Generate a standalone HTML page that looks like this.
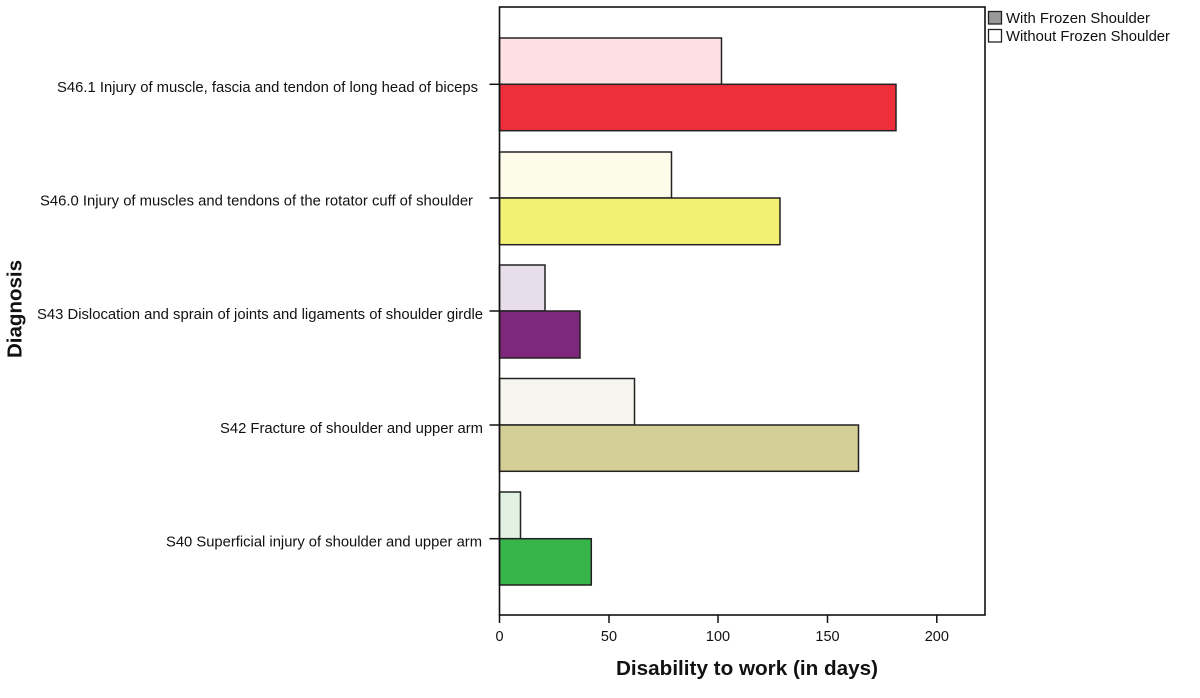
<!DOCTYPE html>
<html>
<head>
<meta charset="utf-8">
<style>
html,body{margin:0;padding:0;background:#fff;}
svg{display:block;}
text{font-family:"Liberation Sans",Arial,sans-serif;fill:#111;}
</style>
</head>
<body>
<svg width="1200" height="698" viewBox="0 0 1200 698" xmlns="http://www.w3.org/2000/svg">
<rect x="0" y="0" width="1200" height="698" fill="#fff"/>

<!-- bars -->
<g stroke="#222" stroke-width="1.5">
  <rect x="499.5" y="38" width="222" height="46.3" fill="#FCE0E2"/>
  <rect x="499.5" y="84.3" width="396.5" height="46.4" fill="#EE2E3B"/>

  <rect x="499.5" y="152" width="172" height="46" fill="#FDFCEA"/>
  <rect x="499.5" y="198" width="280.5" height="46.7" fill="#F4F074"/>

  <rect x="499.5" y="265" width="45.5" height="46" fill="#E8DDEB"/>
  <rect x="499.5" y="311" width="80.5" height="47" fill="#7E287C"/>

  <rect x="499.5" y="378.5" width="135" height="46.5" fill="#F6F6EE"/>
  <rect x="499.5" y="425" width="359" height="46.3" fill="#D4CF97"/>

  <rect x="499.5" y="492" width="21" height="46.7" fill="#E1F2E3"/>
  <rect x="499.5" y="538.7" width="91.8" height="46.3" fill="#37B44A"/>
</g>

<!-- frame -->
<rect x="499.5" y="7" width="485.5" height="608" fill="none" stroke="#111" stroke-width="1.6"/>

<!-- y ticks -->
<g stroke="#111" stroke-width="1.5">
  <line x1="489.5" y1="84.3" x2="499.5" y2="84.3"/>
  <line x1="489.5" y1="198" x2="499.5" y2="198"/>
  <line x1="489.5" y1="311" x2="499.5" y2="311"/>
  <line x1="489.5" y1="425" x2="499.5" y2="425"/>
  <line x1="489.5" y1="538.7" x2="499.5" y2="538.7"/>
</g>

<!-- x ticks -->
<g stroke="#111" stroke-width="1.5">
  <line x1="499.5" y1="615" x2="499.5" y2="623"/>
  <line x1="609" y1="615" x2="609" y2="623"/>
  <line x1="718" y1="615" x2="718" y2="623"/>
  <line x1="827.5" y1="615" x2="827.5" y2="623"/>
  <line x1="936.8" y1="615" x2="936.8" y2="623"/>
</g>

<!-- x tick labels -->
<g font-size="14.5" text-anchor="middle">
  <text x="499.5" y="641">0</text>
  <text x="609" y="641">50</text>
  <text x="718" y="641">100</text>
  <text x="827.5" y="641">150</text>
  <text x="936.8" y="641">200</text>
</g>

<!-- category labels -->
<g font-size="15">
  <text x="57" y="92" textLength="421" lengthAdjust="spacingAndGlyphs">S46.1 Injury of muscle, fascia and tendon of long head of biceps</text>
  <text x="40" y="205.5" textLength="433" lengthAdjust="spacingAndGlyphs">S46.0 Injury of muscles and tendons of the rotator cuff of shoulder</text>
  <text x="37" y="319" textLength="446" lengthAdjust="spacingAndGlyphs">S43 Dislocation and sprain of joints and ligaments of shoulder girdle</text>
  <text x="220" y="433" textLength="263" lengthAdjust="spacingAndGlyphs">S42 Fracture of shoulder and upper arm</text>
  <text x="166" y="546.5" textLength="316" lengthAdjust="spacingAndGlyphs">S40 Superficial injury of shoulder and upper arm</text>
</g>

<!-- axis titles -->
<text x="616" y="675" font-size="20.5" font-weight="bold" textLength="262" lengthAdjust="spacingAndGlyphs">Disability to work (in days)</text>
<text transform="translate(21.5,358) rotate(-90)" font-size="20.5" font-weight="bold" textLength="98" lengthAdjust="spacingAndGlyphs">Diagnosis</text>

<!-- legend -->
<rect x="988.5" y="11.5" width="13" height="12.5" fill="#999" stroke="#222" stroke-width="1.3"/>
<rect x="988.5" y="29.5" width="13" height="12.5" fill="#fff" stroke="#222" stroke-width="1.3"/>
<g font-size="14.5">
  <text x="1006" y="23" textLength="144" lengthAdjust="spacingAndGlyphs">With Frozen Shoulder</text>
  <text x="1006" y="41" textLength="164" lengthAdjust="spacingAndGlyphs">Without Frozen Shoulder</text>
</g>
</svg>
</body>
</html>
